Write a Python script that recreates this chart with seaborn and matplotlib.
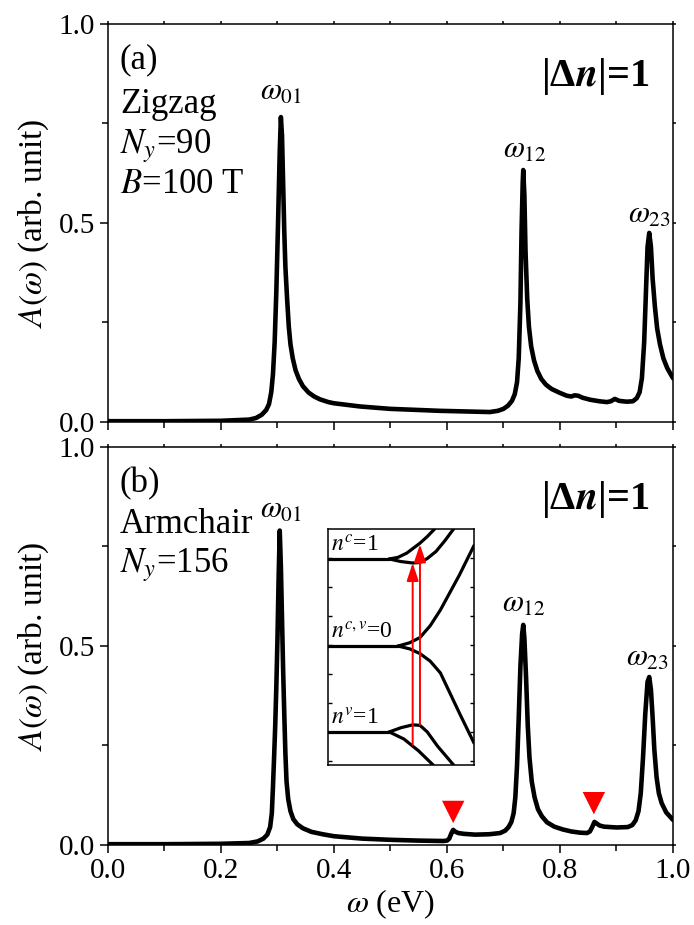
import numpy as np
import pandas as pd
import matplotlib
matplotlib.use("Agg")
import matplotlib.pyplot as plt
from matplotlib.ticker import MultipleLocator, FormatStrFormatter
import seaborn as sns

# ---------------- data ----------------
top_w = [0.0, 0.10, 0.20, 0.25, 0.262, 0.272, 0.280, 0.285, 0.289, 0.292, 0.295, 0.298,
         0.301, 0.304, 0.306, 0.308, 0.310, 0.312, 0.314, 0.317, 0.320, 0.323, 0.327,
         0.332, 0.338, 0.345, 0.355, 0.365, 0.375, 0.39, 0.40, 0.446, 0.499, 0.588,
         0.676, 0.690, 0.700, 0.708, 0.715, 0.720, 0.724, 0.727, 0.730, 0.732, 0.734,
         0.735, 0.737, 0.739, 0.742, 0.745, 0.749, 0.754, 0.760, 0.767, 0.775, 0.785,
         0.800, 0.812, 0.820, 0.826, 0.832, 0.840, 0.853, 0.870, 0.883, 0.890, 0.897,
         0.905, 0.918, 0.929, 0.936, 0.941, 0.945, 0.949, 0.952, 0.955, 0.958, 0.961,
         0.964, 0.968, 0.972, 0.977, 0.983, 0.990, 1.0]
top_A = [0.002, 0.002, 0.003, 0.006, 0.010, 0.018, 0.030, 0.045, 0.075, 0.12, 0.20, 0.33,
         0.50, 0.68, 0.766, 0.72, 0.60, 0.48, 0.39, 0.31, 0.24, 0.195, 0.16,
         0.13, 0.108, 0.090, 0.074, 0.064, 0.057, 0.050, 0.047, 0.039, 0.033, 0.028,
         0.025, 0.028, 0.033, 0.041, 0.053, 0.070, 0.10, 0.16, 0.30, 0.48, 0.60,
         0.633, 0.57, 0.43, 0.31, 0.24, 0.19, 0.155, 0.128, 0.108, 0.094, 0.083,
         0.073, 0.066, 0.064, 0.067, 0.066, 0.061, 0.056, 0.052, 0.050, 0.052, 0.058,
         0.053, 0.051, 0.052, 0.060, 0.075, 0.11, 0.20, 0.32, 0.44, 0.475, 0.44,
         0.36, 0.29, 0.235, 0.195, 0.16, 0.135, 0.11]

bot_w = [0.0, 0.10, 0.20, 0.25, 0.265, 0.275, 0.282, 0.287, 0.290, 0.292, 0.294, 0.296,
         0.298, 0.300, 0.302, 0.304, 0.306, 0.308, 0.310, 0.312, 0.314, 0.316, 0.319,
         0.323, 0.328, 0.335, 0.345, 0.360, 0.380, 0.40, 0.45, 0.50, 0.55, 0.593, 0.600,
         0.604, 0.608, 0.611, 0.614, 0.620, 0.630, 0.650, 0.675, 0.694, 0.703, 0.709,
         0.714, 0.718, 0.721, 0.724, 0.727, 0.730, 0.733, 0.735, 0.737, 0.740, 0.743,
         0.746, 0.750, 0.755, 0.761, 0.768, 0.777, 0.790, 0.805, 0.820, 0.835, 0.848,
         0.853, 0.857, 0.861, 0.865, 0.870, 0.878, 0.900, 0.920, 0.928, 0.934, 0.939,
         0.943, 0.947, 0.951, 0.955, 0.958, 0.961, 0.964, 0.967, 0.971, 0.975, 0.980,
         0.988, 1.0]
bot_A = [0.002, 0.002, 0.003, 0.005, 0.009, 0.016, 0.026, 0.045, 0.08, 0.146, 0.22, 0.30,
         0.40, 0.52, 0.67, 0.79, 0.70, 0.57, 0.44, 0.33, 0.23, 0.16, 0.115,
         0.085, 0.065, 0.052, 0.042, 0.033, 0.027, 0.022, 0.016, 0.013, 0.011, 0.010, 0.011,
         0.016, 0.030, 0.038, 0.034, 0.030, 0.028, 0.026, 0.027, 0.030, 0.036, 0.045,
         0.058, 0.08, 0.12, 0.20, 0.32, 0.45, 0.53, 0.553, 0.52, 0.42, 0.30,
         0.22, 0.16, 0.12, 0.09, 0.072, 0.057, 0.046, 0.039, 0.034, 0.031, 0.030,
         0.034, 0.045, 0.058, 0.054, 0.049, 0.046, 0.044, 0.045, 0.050, 0.062, 0.085,
         0.13, 0.22, 0.33, 0.41, 0.422, 0.39, 0.32, 0.24, 0.17, 0.13, 0.105,
         0.082, 0.063]

# red triangle markers (panel b)
tri_w = [0.611, 0.860]
tri_A = [0.083, 0.105]

# peak labels
top_lab = [r"$\omega_{01}$", r"$\omega_{12}$", r"$\omega_{23}$"]
top_lab_x = [0.306, 0.738, 0.959]
top_lab_y = [0.809, 0.663, 0.500]
bot_lab = [r"$\omega_{01}$", r"$\omega_{12}$", r"$\omega_{23}$"]
bot_lab_x = [0.306, 0.736, 0.954]
bot_lab_y = [0.822, 0.585, 0.450]

# inset band sketch (arbitrary units)
ins_branches = {
    "c1_flat": ([0.0, 0.42], [0.873, 0.873]),
    "c1_up": ([0.42, 0.48, 0.54, 0.63, 0.68, 0.73], [0.873, 0.880, 0.898, 0.94, 0.968, 1.0]),
    "c1_lo": ([0.42, 0.50, 0.58, 0.63, 0.68, 0.74, 0.80, 0.86], [0.873, 0.862, 0.856, 0.858, 0.875, 0.905, 0.95, 1.0]),
    "c0_flat": ([0.0, 0.48], [0.504, 0.504]),
    "c0_up": ([0.48, 0.56, 0.63, 0.70, 0.77, 0.90, 1.0], [0.504, 0.518, 0.54, 0.59, 0.657, 0.805, 0.93]),
    "c0_lo": ([0.48, 0.56, 0.63, 0.70, 0.77, 0.90, 1.0], [0.504, 0.492, 0.472, 0.44, 0.39, 0.22, 0.093]),
    "v1_flat": ([0.0, 0.42], [0.14, 0.14]),
    "v1_up": ([0.42, 0.50, 0.58, 0.63, 0.68, 0.75, 0.86], [0.14, 0.158, 0.17, 0.168, 0.14, 0.08, 0.0]),
    "v1_lo": ([0.42, 0.52, 0.62, 0.72], [0.14, 0.11, 0.06, 0.0]),
}
arrow_x = [0.58, 0.63]
arrow_y0 = [0.085, 0.17]
arrow_y1 = [0.856, 0.935]
level_labels = [r"$n^{c}$=1", r"$n^{c,v}$=0", r"$n^{v}$=1"]
level_y = [0.873, 0.504, 0.14]

# ---------------- style ----------------
sns.set_theme(style="ticks")
plt.rcParams["font.family"] = ["Liberation Serif", "DejaVu Serif"]
plt.rcParams["mathtext.fontset"] = "stix"
plt.rcParams["axes.linewidth"] = 1.1
for k in ["axes.edgecolor", "xtick.color", "ytick.color", "text.color", "axes.labelcolor"]:
    plt.rcParams[k] = "black"

fig = plt.figure(figsize=(6.94, 9.25), dpi=100)
ax1 = fig.add_axes([0.1556, 0.5438, 0.8141, 0.4303])
ax2 = fig.add_axes([0.1556, 0.0865, 0.8141, 0.4303])

df_top = pd.DataFrame({"w": top_w, "A": top_A})
df_bot = pd.DataFrame({"w": bot_w, "A": bot_A})
lkw = dict(color="black", lw=3.3, sort=False, estimator=None,
           solid_joinstyle="round", solid_capstyle="round")
sns.lineplot(data=df_top, x="w", y="A", ax=ax1, **lkw)
sns.lineplot(data=df_bot, x="w", y="A", ax=ax2, **lkw)
sns.scatterplot(x=tri_w, y=tri_A, ax=ax2, marker="v", s=260, color="red", edgecolor="none", zorder=5)

for ax in (ax1, ax2):
    ax.set_xlim(0, 1.0)
    ax.set_ylim(0, 1.0)
    ax.xaxis.set_major_locator(MultipleLocator(0.2))
    ax.xaxis.set_minor_locator(MultipleLocator(0.1))
    ax.yaxis.set_major_locator(MultipleLocator(0.5))
    ax.yaxis.set_minor_locator(MultipleLocator(0.25))
    ax.tick_params(which="major", direction="out", length=6, width=1.1, labelsize=21)
    ax.tick_params(which="minor", direction="out", length=4, width=1.1)
    ax.tick_params(which="both", top=True, right=True)
    ax.set_ylabel(r"$A(\omega)$ (arb. unit)", fontsize=24, labelpad=5)
    ax.xaxis.set_major_formatter(FormatStrFormatter("%.1f"))
    ax.yaxis.set_major_formatter(FormatStrFormatter("%.1f"))
    for t in ax.xaxis.get_major_ticks() + ax.yaxis.get_major_ticks():
        t.tick2line.set_markersize(2)
    for t in ax.xaxis.get_minor_ticks() + ax.yaxis.get_minor_ticks():
        t.tick2line.set_markersize(2)

ax1.set_xlabel("")
ax1.tick_params(labelbottom=False)
ax2.set_xlabel(r"$\omega$ (eV)", fontsize=23, labelpad=2)

dn_label = r"|Δ$\boldsymbol{n}$|=1"

# text panel a
ax1.text(0.021, 0.889, "(a)", fontsize=25, va="baseline")
ax1.text(0.021, 0.776, "Zigzag", fontsize=25, va="baseline")
ax1.text(0.021, 0.676, r"$N_y$=90", fontsize=25, va="baseline")
ax1.text(0.021, 0.575, r"$B$=100 T", fontsize=25, va="baseline")
ax1.text(0.959, 0.867, dn_label, fontsize=29, fontweight="bold", ha="right", va="center")
for s, x, y in zip(top_lab, top_lab_x, top_lab_y):
    ax1.text(x, y, s, fontsize=22, ha="center", va="baseline")

# text panel b
ax2.text(0.021, 0.887, "(b)", fontsize=25, va="baseline")
ax2.text(0.021, 0.784, "Armchair", fontsize=25, va="baseline")
ax2.text(0.021, 0.686, r"$N_y$=156", fontsize=25, va="baseline")
ax2.text(0.959, 0.867, dn_label, fontsize=29, fontweight="bold", ha="right", va="center")
for s, x, y in zip(bot_lab, bot_lab_x, bot_lab_y):
    ax2.text(x, y, s, fontsize=22, ha="center", va="baseline")

# inset
axi = fig.add_axes([0.4726, 0.173, 0.2104, 0.2551])
for name, (xs, ys) in ins_branches.items():
    sns.lineplot(x=xs, y=ys, ax=axi, color="black", lw=2.3, sort=False, estimator=None,
                 solid_joinstyle="round", solid_capstyle="round")
for x, y0, y1 in zip(arrow_x, arrow_y0, arrow_y1):
    axi.annotate("", xy=(x, y1), xytext=(x, y0),
                 arrowprops=dict(arrowstyle="-|>,head_length=0.9,head_width=0.3",
                                 color="red", lw=1.4, shrinkA=0, shrinkB=0))
for s, y in zip(level_labels, level_y):
    axi.text(0.02, y + 0.01, s, fontsize=17, va="bottom", ha="left")
axi.set_xlim(0, 1)
axi.set_ylim(0, 1)
axi.set_xticks([])
axi.set_yticks(np.arange(0.0175, 1.0, 0.123))
axi.tick_params(axis="y", direction="in", length=3, width=1, left=True, right=True, labelleft=False)
for sp in axi.spines.values():
    sp.set_linewidth(1.1)

fig.savefig("out.png", dpi=100)
